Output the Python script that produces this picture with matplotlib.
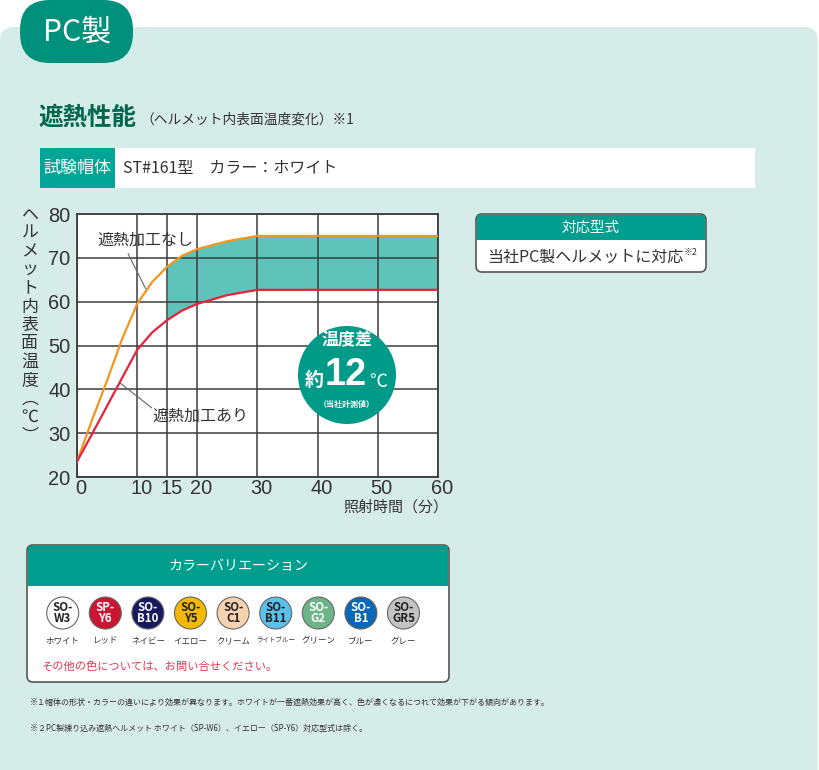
import numpy as np
import matplotlib.pyplot as plt
import matplotlib.transforms as mtransforms
from matplotlib.patches import FancyBboxPatch, Rectangle, Circle

plt.rcParams['font.family'] = ['Noto Sans CJK JP', 'DejaVu Sans']

# ---- data ----
minutes = [0, 2.5, 5, 7.5, 10, 12.5, 15, 17.5, 20, 25, 30, 40, 50, 60]
temp_plain = [23.5, 33, 42, 51.5, 59.5, 64.5, 68, 70.5, 72, 73.8, 75, 75, 75, 75]    # 遮熱加工なし
temp_shield = [23.5, 29.8, 36.2, 42.6, 49, 53, 55.8, 58, 59.5, 61.5, 62.7, 62.7, 62.7, 62.7]  # 遮熱加工あり
x_ticks = [0, 10, 15, 20, 30, 40, 50, 60]
y_ticks = [20, 30, 40, 50, 60, 70, 80]

color_codes = ['SO-\nW3', 'SP-\nY6', 'SO-\nB10', 'SO-\nY5', 'SO-\nC1', 'SO-\nB11', 'SO-\nG2', 'SO-\nB1', 'SO-\nGR5']
color_names = ['ホワイト', 'レッド', 'ネイビー', 'イエロー', 'クリーム', 'ライトブルー', 'グリーン', 'ブルー', 'グレー']
swatch_fill = ['#ffffff', '#cc1530', '#161a5c', '#f5b800', '#f8d1b0', '#5cc0ec', '#6db589', '#0a67b5', '#c3c3c3']
swatch_text = ['#222222', '#ffffff', '#ffffff', '#222222', '#222222', '#222222', '#ffffff', '#ffffff', '#222222']

MINT = '#d5ece8'
TEAL = '#009e8f'
DARK = '#333333'

def pt(px):
    return px * 0.72

fig = plt.figure(figsize=(8.2, 7.7), dpi=100)
fig.patch.set_facecolor('white')

# background layer in pixel coordinates
bg = fig.add_axes([0, 0, 1, 1], zorder=0)
bg.set_xlim(0, 820)
bg.set_ylim(770, 0)
bg.axis('off')

bg.add_patch(FancyBboxPatch((0, 27), 818, 780, boxstyle='round,pad=0,rounding_size=14',
                            fc=MINT, ec='none'))
bg.add_patch(FancyBboxPatch((20, 0), 113, 63, boxstyle='round,pad=0,rounding_size=30',
                            fc='#00917c', ec='none'))
bg.text(77, 32, 'PC製', color='white', fontsize=pt(30), ha='center', va='center')

bg.text(38, 118, '遮熱性能', color='#00664d', fontsize=pt(24.5), fontweight='bold',
        ha='left', va='center')
bg.text(140, 120, '（ヘルメット内表面温度変化）※1', color=DARK, fontsize=pt(13.8),
        ha='left', va='center')

bg.add_patch(Rectangle((40, 148), 75, 40, fc='#00a596', ec='none'))
bg.add_patch(Rectangle((115, 148), 640, 40, fc='white', ec='none'))
bg.text(77, 168, '試験帽体', color='white', fontsize=pt(17), ha='center', va='center')
bg.text(123, 168, 'ST#161型　カラー：ホワイト', color=DARK, fontsize=pt(16),
        ha='left', va='center')

# right-hand box
bg.add_patch(FancyBboxPatch((476, 214), 230, 58, boxstyle='round,pad=0,rounding_size=6',
                            fc='white', ec='#555555', lw=1.2))
bg.add_patch(Rectangle((477, 215), 228, 25, fc=TEAL, ec='none'))
bg.text(591, 228, '対応型式', color='white', fontsize=pt(14.5), ha='center', va='center')
bg.text(487, 257, '当社PC製ヘルメットに対応', color=DARK, fontsize=pt(16), ha='left', va='center')
bg.text(684, 252, '※2', color=DARK, fontsize=pt(9), ha='left', va='center')

# colour variation box
bg.add_patch(FancyBboxPatch((27, 545), 422, 137, boxstyle='round,pad=0,rounding_size=6',
                            fc='white', ec='#555555', lw=1.2))
bg.add_patch(Rectangle((28, 546), 420, 40, fc=TEAL, ec='none'))
bg.text(238, 566, 'カラーバリエーション', color='white', fontsize=pt(14), ha='center', va='center')
for i, code in enumerate(color_codes):
    cx = 62.7 + i * 42.6
    bg.add_patch(Circle((cx, 613), 16, fc=swatch_fill[i], ec='#666666', lw=0.8))
    bg.text(cx, 613, code, color=swatch_text[i], fontsize=pt(11.5), fontweight='bold',
            ha='center', va='center', linespacing=0.85)
    bg.text(cx, 641, color_names[i], color=DARK, fontsize=pt(8.5 if len(color_names[i]) < 6 else 6.5),
            ha='center', va='center')
bg.text(42, 667, 'その他の色については、お問い合せください。', color='#e8334f',
        fontsize=pt(11.2), ha='left', va='center')

bg.text(30, 702, '※１帽体の形状・カラーの違いにより効果が異なります。ホワイトが一番遮熱効果が高く、色が濃くなるにつれて効果が下がる傾向があります。',
        color=DARK, fontsize=pt(8), ha='left', va='center')
bg.text(30, 728, '※２PC製練り込み遮熱ヘルメット ホワイト（SP-W6）、イエロー（SP-Y6）対応型式は除く。',
        color=DARK, fontsize=pt(8), ha='left', va='center')

# y label, written vertically
ylabel = 'ヘルメット内表面温度︵℃︶'
bg.text(30, 325, '\n'.join(ylabel), color=DARK, fontsize=pt(17), ha='center', va='center',
        linespacing=1.03)
bg.text(448, 507, '照射時間（分）', color=DARK, fontsize=pt(15), ha='right', va='center')

# ---- chart ----
ax = fig.add_axes([77 / 820, 1 - 477 / 770, 361 / 820, 263 / 770], zorder=1)
ax.set_facecolor('white')
ax.set_xlim(0, 60)
ax.set_ylim(20, 80)
x = np.array(minutes)
lo = np.array(temp_shield)
hi = np.array(temp_plain)
ax.fill_between(x, lo, hi, where=x >= 15, color='#5ec3b9', lw=0, zorder=1)
for v in x_ticks:
    ax.axvline(v, color='#3c3c3c', lw=1.1, zorder=2)
for v in y_ticks:
    ax.axhline(v, color='#3c3c3c', lw=1.1, zorder=2)
ax.plot(x, hi, color='#f0961e', lw=1.6, zorder=3)
ax.plot(x, lo, color='#e8213c', lw=1.6, zorder=3)
for s in ax.spines.values():
    s.set_color('#3c3c3c')
    s.set_linewidth(1.3)
ax.set_xticks(x_ticks)
ax.set_yticks(y_ticks)
ax.tick_params(length=0, labelsize=pt(20), colors=DARK)
ax.tick_params(axis='y', pad=4.5)
ax.tick_params(axis='x', pad=1.5)
shift = mtransforms.ScaledTranslation(4 / 100, 0, fig.dpi_scale_trans)
for lab in ax.get_xticklabels():
    lab.set_transform(lab.get_transform() + shift)
for lab in ax.get_xticklabels() + ax.get_yticklabels():
    lab.set_fontfamily(['Liberation Sans', 'DejaVu Sans'])

ax.text(3.4, 74, '遮熱加工なし', color=DARK, fontsize=pt(16), ha='left', va='center', zorder=4)
ax.plot([8.5, 11.4], [70.9, 63.0], color='#666666', lw=0.8, zorder=4)
ax.text(12.6, 33.8, '遮熱加工あり', color=DARK, fontsize=pt(16), ha='left', va='center', zorder=4)
ax.plot([12.4, 7.2], [35.8, 41.4], color='#666666', lw=0.8, zorder=4)

# temperature difference badge
fg = fig.add_axes([0, 0, 1, 1], zorder=3)
fg.set_xlim(0, 820)
fg.set_ylim(770, 0)
fg.axis('off')
fg.patch.set_alpha(0)
fg.add_patch(Circle((347, 375), 49, fc='#009a89', ec='none'))
fg.text(347, 340, '温度差', color='white', fontsize=pt(17), fontweight='bold', ha='center', va='center')
fg.text(314, 380, '約', color='white', fontsize=pt(19), fontweight='bold', ha='center', va='center')
fg.text(346, 375, '12', color='white', fontsize=pt(38), fontweight='bold', ha='center', va='center',
        family=['Liberation Sans', 'DejaVu Sans'])
fg.text(378, 382, '℃', color='white', fontsize=pt(18), ha='center', va='center')
fg.text(347, 404, '（当社計測値）', color='white', fontsize=pt(8), fontweight='bold', ha='center', va='center')

fig.savefig('out.png', dpi=100)
